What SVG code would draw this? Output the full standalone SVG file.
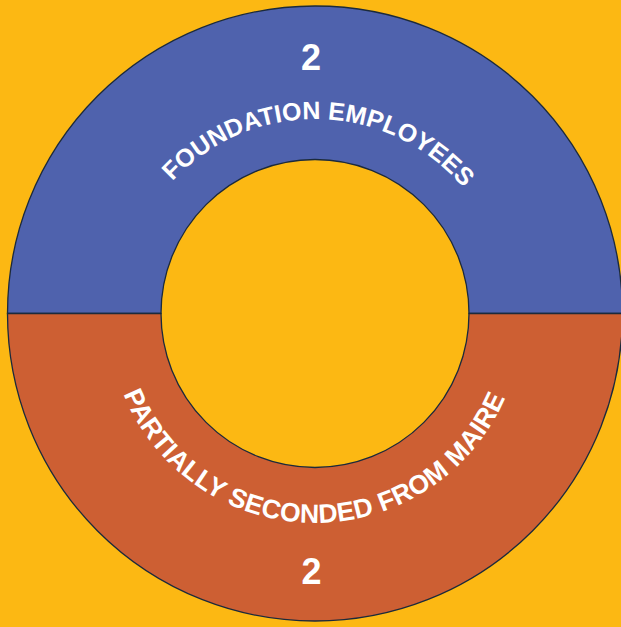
<svg xmlns="http://www.w3.org/2000/svg" width="621" height="627" viewBox="0 0 621 627">
  <style>
    .seg { stroke: #1b2a3c; stroke-width: 1.3; }
    .lbl { font-family: "Liberation Sans", Arial, sans-serif; font-weight: bold; fill: #ffffff; }
    .num { font-size: 36px; text-anchor: middle; }
    .arc { font-size: 25px; text-anchor: middle; }
    .arc2 { font-size: 26.5px; text-anchor: middle; }
  </style>
  <defs>
    <path id="topArc" d="M 121 313 A 194 194 0 0 1 509 313"/>
    <path id="botArc" d="M 108 316 A 207 207 0 0 0 522 316"/>
  </defs>
  <rect x="0" y="0" width="621" height="627" fill="#fcb813"/>
  <g id="foundation-employees">
    <path class="seg" fill="#4f62ad" d="M 7.5 313.5 A 307.5 307.5 0 0 1 622.5 313.5 L 469 313.5 A 154 154 0 0 0 161 313.5 Z"/>
    <text class="lbl num" x="311" y="70">2</text>
    <text class="lbl arc"><textPath href="#topArc" startOffset="309" textLength="329" lengthAdjust="spacing">FOUNDATION EMPLOYEES</textPath></text>
  </g>
  <g id="partially-seconded">
    <path class="seg" fill="#cd5f33" d="M 7.5 313.5 A 307.5 307.5 0 0 0 622.5 313.5 L 469 313.5 A 154 154 0 0 1 161 313.5 Z"/>
    <text class="lbl num" x="311.5" y="584">2</text>
    <text class="lbl arc2"><textPath href="#botArc" startOffset="323" textLength="486" lengthAdjust="spacing">PARTIALLY SECONDED FROM MAIRE</textPath></text>
  </g>
  <g id="connectors"></g>
</svg>
